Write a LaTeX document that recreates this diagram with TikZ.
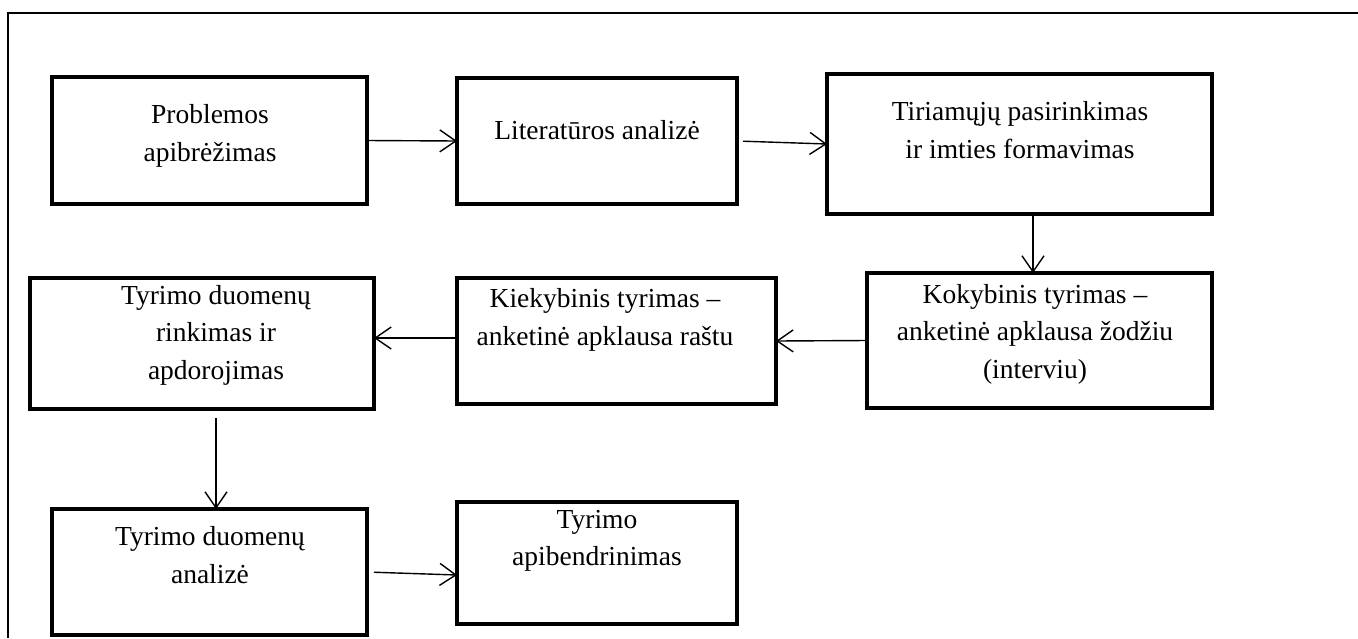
\documentclass[tikz,border=0pt]{standalone}
\usepackage{fontspec}
\setmainfont{Liberation Serif}
\usetikzlibrary{arrows.meta}

\begin{document}
\begin{tikzpicture}[x=1pt, y=-1pt,
  box/.style={draw, line width=4.5pt, inner sep=0pt, outer sep=0pt},
  txt/.style={align=center, inner sep=0pt, font=\fontsize{27.5}{37.5}\selectfont},
  arr/.style={line width=1.4pt, -{Straight Barb[length=16pt, width=22pt, line width=1.4pt]}},
  frame/.style={line width=2pt}
]
\useasboundingbox (0,0) rectangle (1358,638);

% outer frame (top and left sides only)
\coordinate (fb) at (8,638);
\coordinate (ftl) at (8,13);
\coordinate (ftr) at (1358,13);
\draw[frame] (fb) -- (ftl) -- (ftr);

% boxes
\node[box, minimum width=315pt, minimum height=127pt] (A) at (209.5,140.5) {};
\node[box, minimum width=280pt, minimum height=126pt] (B) at (597,141) {};
\node[box, minimum width=385pt, minimum height=140pt] (C) at (1019.5,144) {};
\node[box, minimum width=344pt, minimum height=131pt] (D) at (202,343.5) {};
\node[box, minimum width=319pt, minimum height=126pt] (E) at (616.5,341) {};
\node[box, minimum width=345pt, minimum height=135pt] (F) at (1039.5,340.5) {};
\node[box, minimum width=315pt, minimum height=126pt] (G) at (209.5,572) {};
\node[box, minimum width=280pt, minimum height=122pt] (H) at (597,563) {};

% texts
\node[txt] (tA) at (210,136) {Problemos\\apibrėžimas};
\node[txt] (tB) at (597,130) {Literatūros analizė};
\node[txt] (tC) at (1020,130) {Tiriamųjų pasirinkimas\\ir imties formavimas};
\node[txt] (tD) at (216,335) {Tyrimo duomenų\\rinkimas ir\\apdorojimas};
\node[txt] (tE) at (605,320) {Kiekybinis tyrimas –\\anketinė apklausa raštu};
\node[txt] (tF) at (1035,334) {Kokybinis tyrimas –\\anketinė apklausa žodžiu\\(interviu)};
\node[txt] (tG) at (210,555) {Tyrimo duomenų\\analizė};
\node[txt] (tH) at (597,541) {Tyrimo\\apibendrinimas};

% connectors
\coordinate (xcf) at (1033,0);
\coordinate (xdg) at (216,0);
\draw[arr] (A.east) -- (B.west);
\draw[arr, shorten <=6pt] (B.east) -- (C.west);
\draw[arr] (C.south -| xcf) -- (F.north -| xcf);
\draw[arr] (F.west) -- (E.east);
\draw[arr] (E.west |- 0,338) -- (D.east |- 0,338);
\draw[arr, shorten <=9pt] (D.south -| xdg) -- (G.north -| xdg);
\draw[arr, shorten <=7pt] (G.east) -- (H.west |- 0,575);
\end{tikzpicture}
\end{document}
